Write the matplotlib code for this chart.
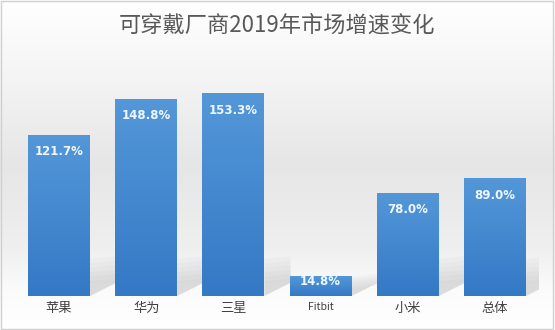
import numpy as np
import matplotlib
matplotlib.use("Agg")
from matplotlib import pyplot as plt
from matplotlib.colors import LinearSegmentedColormap
from matplotlib.patches import Rectangle

plt.rcParams['font.family'] = ['Noto Sans CJK SC', 'DejaVu Sans']

# 数据
categories = ["苹果", "华为", "三星", "Fitbit", "小米", "总体"]
growth = [121.7, 148.8, 153.3, 14.8, 78.0, 89.0]
title = "可穿戴厂商2019年市场增速变化"

fig = plt.figure(figsize=(5.55, 3.3), dpi=100)

# 背景渐变
bg = fig.add_axes([0, 0, 1, 1], zorder=-10)
grad = np.linspace(0, 1, 256).reshape(-1, 1)
bg_cmap = LinearSegmentedColormap.from_list(
    "bg", [(0, "#ffffff"), (0.2, "#f6f6f6"), (0.5, "#e6e6e6"), (0.75, "#efefef"), (0.88, "#fbfbfb"), (1, "#ffffff")])
bg.imshow(grad, cmap=bg_cmap, aspect="auto", extent=[0, 1, 0, 1], origin="upper")
bg.set_xlim(0, 1)
bg.set_ylim(0, 1)
bg.axis("off")
bg.add_patch(Rectangle((0.002, 0.003), 0.995, 0.993, fill=False, edgecolor="#d0d0d0", linewidth=1))

ax = fig.add_axes([0.0277, 0.103, 0.9427, 0.682])
ax.patch.set_alpha(0)
x = np.arange(len(categories))
bars = ax.bar(x, growth, width=0.71, color="#4589d0", zorder=2)

# 柱子渐变 + 阴影
bar_cmap = LinearSegmentedColormap.from_list("bar", ["#3479c6", "#5497d8"])
for b in bars:
    x0, y0 = b.get_x(), b.get_y()
    w, h = b.get_width(), b.get_height()
    im = ax.imshow(np.linspace(0, 1, 64).reshape(-1, 1), cmap=bar_cmap, aspect="auto",
                   extent=[x0, x0 + w, y0, y0 + h], origin="lower", zorder=3)
    im.set_clip_path(b)
    top = min(h, 28)
    for k in range(6):
        f = 1 - k * 0.12
        sx = [x0 + w, x0 + w + 0.3, x0 + w + 0.3, x0 + w]
        sy = [top * f, top * f + 2, 10, 0]
        ax.fill(sx, sy, color="#9a9a9a", alpha=0.06, zorder=1, linewidth=0)

for xi, v in zip(x, growth):
    off = -12.2 if v > 25 else -3.8
    ax.annotate(f"{v:.1f}%", (xi, v), xytext=(0, off), textcoords="offset points",
                ha="center", va="center", color="#eef7ff", fontsize=8.5, fontweight="bold",
                family="DejaVu Sans", zorder=5)

ax.set_xlim(-0.5, len(categories) - 0.5)
ax.set_ylim(0, 170)
ax.set_xticks(x, categories)
for lbl in ax.get_xticklabels():
    lbl.set_color("#404040")
    lbl.set_fontsize(7.5 if lbl.get_text() == "Fitbit" else 9.5)
ax.tick_params(axis="x", length=0, pad=4)
ax.set_yticks([])
for s in ax.spines.values():
    s.set_visible(False)

fig.text(0.5, 0.925, title, ha="center", va="center", fontsize=16, color="#595959")

fig.savefig("out.png", dpi=100)
